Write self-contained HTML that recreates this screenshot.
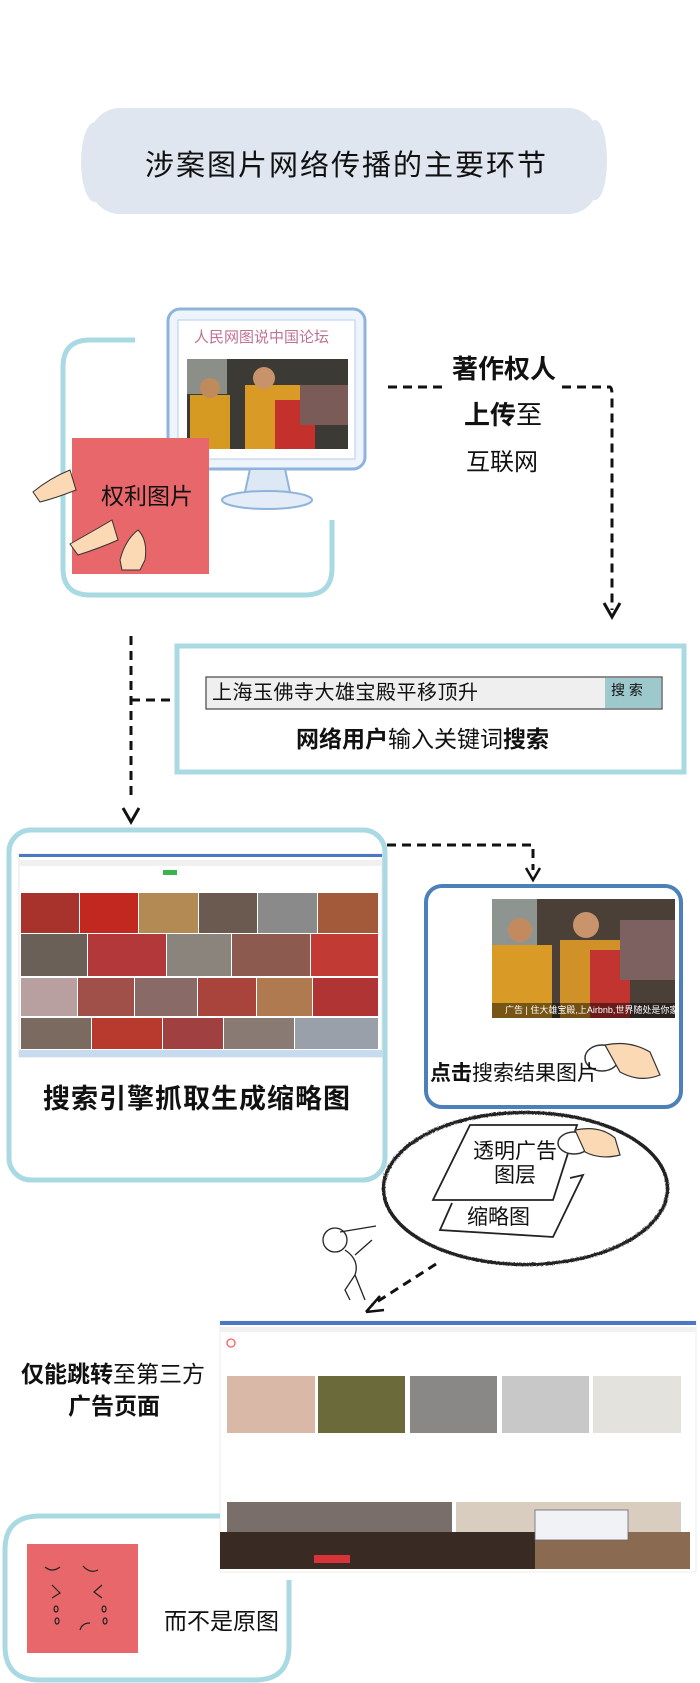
<!DOCTYPE html>
<html><head><meta charset="utf-8">
<style>
html,body{margin:0;padding:0;background:#fff}
body{width:700px;height:1683px;position:relative;overflow:hidden;font-family:"Liberation Sans","Noto Sans CJK SC",sans-serif;color:#111}
.t{position:absolute;white-space:nowrap;line-height:1}
svg{position:absolute;left:0;top:0}
</style></head><body>
<svg width="700" height="1683" viewBox="0 0 700 1683">
<defs>
<filter id="rough"><feTurbulence baseFrequency="0.9" numOctaves="2" result="n"/><feDisplacementMap in="SourceGraphic" in2="n" scale="2"/></filter>
</defs>
<!-- title cloud -->
<rect x="90" y="108" width="508" height="106" rx="30" fill="#dfe6ef"/>
<ellipse cx="95" cy="162" rx="14" ry="40" fill="#dfe6ef"/>
<ellipse cx="595" cy="160" rx="12" ry="40" fill="#dfe6ef"/>
<!-- teal box 1 -->
<path d="M135 340 H90 Q63 340 63 367 V568 Q63 595 90 595 H305 Q332 595 332 568 V520" fill="none" stroke="#a9d9e2" stroke-width="5"/>
<!-- monitor -->
<rect x="168" y="309" width="197" height="160" rx="12" fill="#eef4fb" stroke="#8fb3db" stroke-width="3"/>
<rect x="178" y="320" width="177" height="139" fill="#fff" stroke="#b9cde6" stroke-width="1"/>
<path d="M250 469 L245 492 H290 L285 469Z" fill="#dde8f5" stroke="#8fb3db" stroke-width="2"/>
<ellipse cx="267" cy="500" rx="45" ry="9" fill="#e4ecf7" stroke="#8fb3db" stroke-width="2"/>
<!-- monitor photo -->
<rect x="187" y="359" width="161" height="90" fill="#3b3a34"/>
<rect x="187" y="359" width="40" height="35" fill="#8b8f88"/>
<rect x="190" y="395" width="40" height="54" fill="#d69a22"/>
<rect x="245" y="385" width="55" height="64" fill="#d99a26"/>
<rect x="275" y="400" width="40" height="49" fill="#c4302b"/>
<circle cx="210" cy="388" r="10" fill="#c08b5c"/><circle cx="264" cy="378" r="11" fill="#c8926a"/>
<rect x="300" y="385" width="48" height="40" fill="#7a5b58"/>
<!-- red square 1 -->
<rect x="72" y="438" width="137" height="136" fill="#e8676b"/>
<!-- hands -->
<path d="M33 492 Q50 478 70 470 L76 490 Q56 498 40 502Z" fill="#fbd9b5" stroke="#333" stroke-width="1"/>
<path d="M70 544 Q95 530 112 520 L118 540 Q100 548 78 555Z" fill="#fbd9b5" stroke="#333" stroke-width="1"/>
<path d="M120 560 Q125 540 138 530 Q148 540 145 560 L140 570 H122Z" fill="#fbd9b5" stroke="#333" stroke-width="1"/>
<!-- dashed connector top -->
<g fill="none" stroke="#111" stroke-width="3" stroke-dasharray="9 6">
<path d="M388 387 H446"/>
<path d="M562 387 H610 Q612 388 612 395 V610"/>
<path d="M131 636 V795"/>
<path d="M131 700 H175"/>
<path d="M387 845 H533 V870"/>
<path d="M436 1264 L372 1305"/>
</g>
<path d="M604 603 L612 617 L620 603" fill="none" stroke="#111" stroke-width="3"/>
<path d="M123 808 L131 822 L139 808" fill="none" stroke="#111" stroke-width="3"/>
<path d="M526 868 L533 880 L540 868" fill="none" stroke="#111" stroke-width="2.5"/>
<path d="M366 1312 L380 1296 M366 1312 L384 1310" fill="none" stroke="#111" stroke-width="2.5"/>
<!-- search box -->
<rect x="177" y="646" width="507" height="126" fill="#fff" stroke="#a9d9e2" stroke-width="5"/>
<rect x="206" y="677" width="456" height="32" fill="#efefef" stroke="#444" stroke-width="1.2"/>
<rect x="605" y="678" width="56" height="30" fill="#9dc8cc"/>
<!-- teal box 2 -->
<rect x="9" y="830" width="376" height="350" rx="22" fill="#fff" stroke="#a9d9e2" stroke-width="5"/>
<!-- screenshot 1 -->
<rect x="19" y="854" width="363" height="203" fill="#fff" stroke="#ccc" stroke-width="0.5"/>
<rect x="19" y="854" width="363" height="3" fill="#4a78c2"/>
<rect x="19" y="860" width="363" height="6" fill="#f0f0f0"/>
<rect x="163" y="870" width="14" height="5" fill="#3bb44a"/>
<g id="r1">
<rect x="21" y="893" width="58" height="40" fill="#a8332c"/><rect x="80" y="893" width="58" height="40" fill="#c2281f"/><rect x="139" y="893" width="59" height="40" fill="#b48a54"/><rect x="199" y="893" width="58" height="40" fill="#6a5a50"/><rect x="258" y="893" width="59" height="40" fill="#8a8a8a"/><rect x="318" y="893" width="60" height="40" fill="#a25a3a"/>
<rect x="21" y="934" width="66" height="42" fill="#6b6058"/><rect x="88" y="934" width="78" height="42" fill="#b2383a"/><rect x="167" y="934" width="64" height="42" fill="#8a847c"/><rect x="232" y="934" width="78" height="42" fill="#8d5a50"/><rect x="311" y="934" width="67" height="42" fill="#c23a34"/>
<rect x="21" y="978" width="56" height="38" fill="#b8a0a0"/><rect x="78" y="978" width="56" height="38" fill="#a05048"/><rect x="135" y="978" width="62" height="38" fill="#8a6a66"/><rect x="198" y="978" width="58" height="38" fill="#a8443c"/><rect x="257" y="978" width="55" height="38" fill="#b07a50"/><rect x="313" y="978" width="65" height="38" fill="#b03434"/>
<rect x="21" y="1018" width="70" height="31" fill="#7a6a60"/><rect x="92" y="1018" width="70" height="31" fill="#b83a2e"/><rect x="163" y="1018" width="60" height="31" fill="#a04040"/><rect x="224" y="1018" width="70" height="31" fill="#8a7a74"/><rect x="295" y="1018" width="83" height="31" fill="#9aa0aa"/>
</g>
<rect x="19" y="1050" width="363" height="7" fill="#c7dbef"/>
<!-- blue box -->
<rect x="426" y="886" width="255" height="221" rx="16" fill="#fff" stroke="#4c80b8" stroke-width="4"/>
<rect x="492" y="899" width="183" height="119" fill="#4a4038"/>
<rect x="492" y="899" width="45" height="50" fill="#8e9591"/>
<rect x="492" y="945" width="60" height="73" fill="#d99b25"/>
<rect x="560" y="940" width="60" height="78" fill="#d09128"/>
<rect x="590" y="950" width="40" height="68" fill="#c23430"/>
<circle cx="520" cy="930" r="12" fill="#c38a60"/><circle cx="586" cy="925" r="13" fill="#c9946c"/>
<rect x="620" y="920" width="55" height="60" fill="#7d6060"/>
<rect x="492" y="1003" width="183" height="15" fill="rgba(0,0,0,0.45)"/>
<!-- pointing hand 1 -->
<ellipse cx="602" cy="1058" rx="17" ry="13" fill="#fff" stroke="#333" stroke-width="1.5"/>
<path d="M605 1045 Q630 1040 650 1052 L660 1075 Q640 1083 620 1072Z" fill="#fbd9b5" stroke="#333" stroke-width="1.2"/>
<!-- ellipse -->
<ellipse cx="525" cy="1188" rx="142" ry="76" fill="none" stroke="#222" stroke-width="3.5" filter="url(#rough)"/>
<!-- parallelograms -->
<path d="M452 1203 L440 1230 L553 1237 L583 1175 L570 1178" fill="#fff" stroke="#222" stroke-width="1.8"/>
<path d="M470 1125 L577 1125 L553 1200 L433 1200Z" fill="#fff" stroke="#222" stroke-width="1.8"/>
<ellipse cx="574" cy="1143" rx="16" ry="11" fill="#fff" stroke="#333" stroke-width="1.5"/>
<path d="M575 1130 Q600 1125 615 1138 L620 1155 Q600 1160 585 1152Z" fill="#fbd9b5" stroke="#333" stroke-width="1.2"/>
<!-- little figure -->
<g fill="none" stroke="#222" stroke-width="1.3">
<circle cx="335" cy="1240" r="12"/><path d="M345 1250 Q360 1260 355 1275 L345 1290 L350 1300 M355 1275 L365 1300 M355 1255 L372 1240 M340 1232 L376 1226"/>
</g>
<!-- airbnb screenshot -->
<rect x="220" y="1321" width="476" height="251" fill="#fff" stroke="#ddd" stroke-width="0.5"/>
<rect x="220" y="1321" width="476" height="4" fill="#4a78c2"/>
<rect x="220" y="1327" width="476" height="5" fill="#f1f1f1"/>
<circle cx="231" cy="1343" r="4" fill="none" stroke="#ff5a5f" stroke-width="1.3"/>
<rect x="227" y="1376" width="88" height="57" fill="#d9b8a8"/><rect x="318" y="1376" width="87" height="57" fill="#6a6a3a"/><rect x="410" y="1376" width="87" height="57" fill="#8a8886"/><rect x="502" y="1376" width="87" height="57" fill="#c8c8c8"/><rect x="593" y="1376" width="88" height="57" fill="#e4e2dc"/>
<rect x="227" y="1502" width="225" height="30" fill="#7a6e6a"/><rect x="456" y="1502" width="225" height="30" fill="#d8cdbf"/>
<rect x="220" y="1532" width="470" height="37" fill="#3a2a24"/>
<rect x="535" y="1532" width="155" height="37" fill="#8a6a50"/>
<rect x="535" y="1510" width="93" height="30" fill="#f0f2f6" stroke="#667" stroke-width="0.8"/>
<rect x="314" y="1555" width="36" height="8" fill="#d9333a"/>
<!-- bottom teal box -->
<path d="M220 1516 H40 Q5 1516 5 1550 V1646 Q5 1680 40 1680 H255 Q289 1680 289 1646 V1580" fill="none" stroke="#a9d9e2" stroke-width="5"/>
<rect x="27" y="1544" width="111" height="109" fill="#e8676b"/>
<g fill="none" stroke="#222" stroke-width="1.2">
<path d="M45 1567 Q52 1573 60 1567 M83 1566 Q90 1574 98 1570 M52 1585 L60 1593 L52 1598 M102 1585 L94 1592 L102 1598 M56 1606 a2 3 0 1 0 0.1 0 M57 1618 a2 3 0 1 0 0.1 0 M104 1606 a2 3 0 1 0 0.1 0 M105 1618 a2 3 0 1 0 0.1 0 M80 1630 Q82 1623 90 1623"/>
</g>
</svg>

<div class="t" style="left:145px;top:152px;font-size:29px;letter-spacing:2px">涉案图片网络传播的主要环节</div>
<div class="t" style="left:194px;top:330px;font-size:15px;color:#c0728f">人民网图说中国论坛</div>
<div class="t" style="left:101px;top:485px;font-size:23px">权利图片</div>
<div class="t" style="left:452px;top:356px;font-size:26px;font-weight:bold">著作权人</div>
<div class="t" style="left:464px;top:402px;font-size:26px"><b>上传</b>至</div>
<div class="t" style="left:466px;top:451px;font-size:24px">互联网</div>
<div class="t" style="left:212px;top:683px;font-size:20px;letter-spacing:0.5px">上海玉佛寺大雄宝殿平移顶升</div>
<div class="t" style="left:611px;top:683px;font-size:14px">搜 索</div>
<div class="t" style="left:296px;top:728px;font-size:23px"><b>网络用户</b>输入关键词<b>搜索</b></div>
<div class="t" style="left:43px;top:1086px;font-size:27px;font-weight:bold;letter-spacing:1px">搜索引擎抓取生成缩略图</div>
<div class="t" style="left:505px;top:1006px;font-size:9px;color:#fff">广告 | 住大雄宝殿,上Airbnb,世界随处是你家</div>
<div class="t" style="left:430px;top:1063px;font-size:21px"><b>点击</b>搜索结果图片</div>
<div class="t" style="left:473px;top:1141px;font-size:21px">透明广告</div>
<div class="t" style="left:494px;top:1165px;font-size:21px">图层</div>
<div class="t" style="left:467px;top:1207px;font-size:21px">缩略图</div>
<div class="t" style="left:21px;top:1363px;font-size:23px"><b>仅能跳转</b>至第三方</div>
<div class="t" style="left:68px;top:1395px;font-size:23px;font-weight:bold">广告页面</div>
<div class="t" style="left:164px;top:1610px;font-size:23px">而不是原图</div>
</body></html>
